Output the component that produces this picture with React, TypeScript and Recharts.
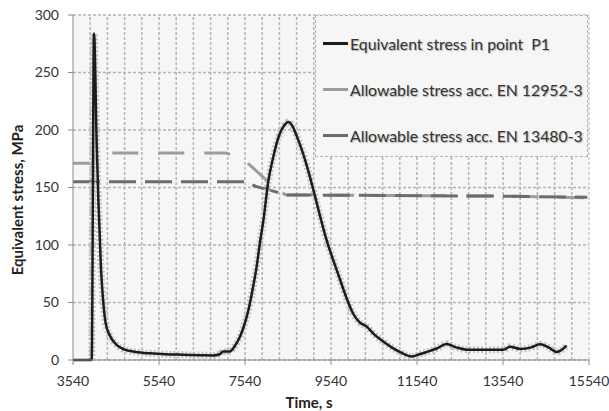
import { LineChart, Line, XAxis, YAxis, CartesianGrid, ReferenceLine, Legend } from 'recharts';

// equivalent stress in point P1 (time s, MPa)
const stressTime = [
  3540, 3975, 4028, 4090, 4130, 4190, 4240, 4300, 4400, 4560, 4740, 5000, 5330, 5700, 6100, 6500,
  6800, 6950, 7030, 7190, 7300, 7420, 7520, 7620, 7720, 7810, 7880, 7970, 8080, 8200, 8330, 8450,
  8550, 8650, 8750, 8860, 9000, 9130, 9280, 9440, 9600, 9750, 9900, 10060, 10200, 10370, 10550,
  10760, 10950, 11140, 11420, 11600, 11770, 12000, 12230, 12450, 12700, 13160, 13550, 13700, 13940,
  14200, 14400, 14600, 14790, 15020,
];
const stressValue = [
  0, 0, 284, 190, 139, 80, 52, 32, 21, 13, 9, 7, 5.8, 5, 4.6, 4.2,
  4, 5, 7.5, 7.5, 12, 20, 30, 43.5, 62, 81, 100, 122, 155, 177, 195, 204,
  207, 203, 194, 183, 166, 148, 126, 104, 86, 70, 54, 40, 33, 29, 22,
  16, 11, 7, 3, 5, 7, 10, 14, 11, 9, 9, 9, 11.6, 9.6,
  11, 13.6, 11, 7, 12.5,
];

// allowable stress acc. EN 12952-3
const en12952Time = [3540, 3990, 4100, 7100, 7350, 7580, 8050, 8300, 8500, 13500, 15500];
const en12952Value = [171, 171, 180, 180, 177, 172, 156, 147, 143.5, 142.5, 141];

// allowable stress acc. EN 13480-3
const en13480Time = [3540, 7540, 7810, 8280, 8500, 13500, 15500];
const en13480Value = [155, 155, 150.7, 146, 143.5, 142.5, 141.5];

const xTicks = [3540, 5540, 7540, 9540, 11540, 13540, 15540];
const yTicks = [0, 50, 100, 150, 200, 250, 300];
const gridTimes = [
  3940, 4340, 4740, 5140, 5540, 5940, 6340, 6740, 7140, 7540, 7940, 8340, 8740, 9140, 9540,
  9940, 10340, 10740, 11140, 11540, 11940, 12340, 12740, 13140, 13540, 13940, 14340, 14740, 15140,
];

const seriesNames = [
  'Equivalent stress in point  P1',
  'Allowable stress acc. EN 12952-3',
  'Allowable stress acc. EN 13480-3',
];
const seriesColors = ['#1c1c1c', '#9c9c9c', '#6c6c6c'];

const stressData = stressTime.map((t, i) => ({ t, v: stressValue[i] }));
const en12952Data = en12952Time.map((t, i) => ({ t, v: en12952Value[i] }));
const en13480Data = en13480Time.map((t, i) => ({ t, v: en13480Value[i] }));

const font = 'Lato, "Open Sans", sans-serif';
const gridColor = '#b4b4b4';

const LegendBox = () => (
  <div
    style={{
      width: 273,
      height: 142,
      boxSizing: 'border-box',
      background: '#f6f6f6',
      border: `1px dashed ${gridColor}`,
      fontFamily: font,
      fontSize: 15.8,
      color: '#333',
      paddingTop: 13,
      paddingLeft: 7,
    }}
  >
    {seriesNames.map((name, i) => (
      <div key={name} style={{ display: 'flex', alignItems: 'center', height: 46, marginTop: i === 0 ? -9 : 0 }}>
        <span style={{ width: 25, height: 3, background: seriesColors[i], marginRight: 2 }} />
        <span style={{ whiteSpace: 'pre', textShadow: '1px 1px 1px #b0b0b0' }}>{name}</span>
      </div>
    ))}
  </div>
);

const YTitle = () => (
  <text
    x={17}
    y={200}
    transform="rotate(-90 17 200)"
    textAnchor="middle"
    dominantBaseline="central"
    fill="#222"
    fontSize={15}
    fontWeight={700}
    fontFamily={font}
  >
    Equivalent stress, MPa
  </text>
);

const App = () => (
  <div style={{ position: 'absolute', left: 0, top: 0, width: 609, height: 411, background: '#fff' }}>
    <LineChart width={609} height={411} margin={{ top: 15, right: 20, bottom: 0, left: 0 }}>
      <CartesianGrid vertical={false} fill="#f6f6f6" stroke={gridColor} strokeDasharray="3 2" strokeWidth={1.5} />
      {gridTimes.map((t) => (
        <ReferenceLine key={t} x={t} stroke={gridColor} strokeDasharray="3 2" strokeWidth={1.5} />
      ))}
      <ReferenceLine x={15540} stroke={gridColor} strokeDasharray="3 2" />
      <XAxis
        type="number"
        dataKey="t"
        domain={[3540, 15540]}
        ticks={xTicks}
        allowDataOverflow
        height={51}
        stroke="#8a8a8a"
        tickSize={5}
        tickMargin={11}
        tick={{ fill: '#333', fontSize: 14, fontFamily: font }}
        label={{ value: 'Time, s', position: 'insideBottom', offset: 3, dx: -22, fill: '#222', fontSize: 15, fontWeight: 700, fontFamily: font }}
      />
      <YAxis
        type="number"
        domain={[0, 300]}
        ticks={yTicks}
        width={73}
        stroke="#8a8a8a"
        tickSize={5}
        tickMargin={9}
        tick={{ fill: '#333', fontSize: 14, fontFamily: font }}
        label={{ content: () => <YTitle /> }}
      />
      <Legend
        layout="horizontal"
        align="center"
        verticalAlign="middle"
        wrapperStyle={{ left: 315, top: 15, width: 273, height: 142 }}
        content={() => <LegendBox />}
      />
      <Line data={en12952Data} dataKey="v" type="linear" stroke={seriesColors[1]} strokeWidth={3} strokeDasharray="26 20" dot={false} isAnimationActive={false} />
      <Line data={en13480Data} dataKey="v" type="linear" stroke={seriesColors[2]} strokeWidth={3} strokeDasharray="27 9" dot={false} isAnimationActive={false} />
      <Line data={stressData.slice(1)} dataKey="v" type="monotone" stroke="#c4c4c4" strokeWidth={7} strokeDasharray="2 2" dot={false} legendType="none" isAnimationActive={false} />
      <Line data={stressData} dataKey="v" type="monotone" stroke={seriesColors[0]} strokeWidth={2.5} dot={false} isAnimationActive={false} />
    </LineChart>
  </div>
);

export default App;
